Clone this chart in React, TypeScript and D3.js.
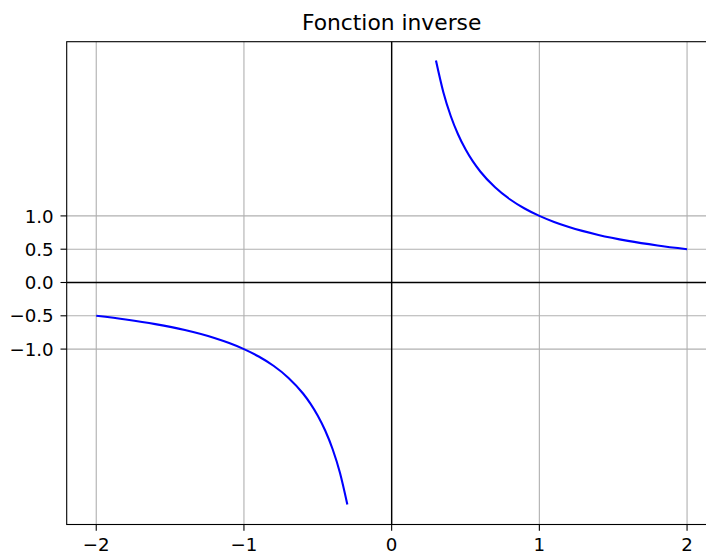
import React from "react";
import * as d3 from "d3";

const posX = [0.3, 0.35, 0.4, 0.45, 0.5, 0.55, 0.6, 0.7, 0.8, 0.9, 1.0, 1.1, 1.2, 1.4, 1.6, 1.8, 2.0];
const posY = [3.333, 2.857, 2.5, 2.222, 2.0, 1.818, 1.667, 1.429, 1.25, 1.111, 1.0, 0.909, 0.833, 0.714, 0.625, 0.556, 0.5];
const negX = [-2.0, -1.8, -1.6, -1.4, -1.2, -1.1, -1.0, -0.9, -0.8, -0.7, -0.6, -0.55, -0.5, -0.45, -0.4, -0.35, -0.3];
const negY = [-0.5, -0.556, -0.625, -0.714, -0.833, -0.909, -1.0, -1.111, -1.25, -1.429, -1.667, -1.818, -2.0, -2.222, -2.5, -2.857, -3.333];
const xTicks = [-2, -1, 0, 1, 2];
const yTicks = [-1.0, -0.5, 0.0, 0.5, 1.0];
const title = "Fonction inverse";

const W = 706, H = 553;
const L = 66.7, R = 716.6, T = 41.7, B = 524.5;
const FS = 18.2;

export default function App() {
  const x = d3.scaleLinear().domain([-2.2, 2.2]).range([L, R]);
  const y = d3.scaleLinear().domain([-3.634, 3.616]).range([B, T]);
  const line = d3.line<[number, number]>().x(d => x(d[0])).y(d => y(d[1])).curve(d3.curveMonotoneX);
  const pos = posX.map((v, i) => [v, posY[i]] as [number, number]);
  const neg = negX.map((v, i) => [v, negY[i]] as [number, number]);
  const fmtY = (v: number) => (v < 0 ? "\u2212" : "") + Math.abs(v).toFixed(1);
  const fmtX = (v: number) => (v < 0 ? "\u2212" : "") + Math.abs(v).toString();
  const font = "DejaVu Sans, sans-serif";
  return (
    <svg width={W} height={H} style={{ position: "absolute", left: 0, top: 0, background: "#fff" }} fontFamily={font}>
      <rect x={0} y={0} width={W} height={H} fill="#fff" />
      <text x={(L + R) / 2} y={30.4} textAnchor="middle" fontSize={21.8} fill="#000">{title}</text>
      {xTicks.map(t => (
        <line key={"gx" + t} x1={x(t)} x2={x(t)} y1={T} y2={B} stroke="#b0b0b0" strokeWidth={1.1} />
      ))}
      {yTicks.map(t => (
        <line key={"gy" + t} x1={L} x2={R} y1={y(t)} y2={y(t)} stroke="#b0b0b0" strokeWidth={1.1} />
      ))}
      <line x1={x(0)} x2={x(0)} y1={T} y2={B} stroke="#000" strokeWidth={1.4} />
      <line x1={L} x2={R} y1={y(0)} y2={y(0)} stroke="#000" strokeWidth={1.4} />
      <path d={line(pos) || ""} fill="none" stroke="#0000ff" strokeWidth={2.1} />
      <path d={line(neg) || ""} fill="none" stroke="#0000ff" strokeWidth={2.1} />
      <rect x={L} y={T} width={R - L} height={B - T} fill="none" stroke="#000" strokeWidth={1.1} />
      {xTicks.map(t => (
        <g key={"tx" + t}>
          <line x1={x(t)} x2={x(t)} y1={B} y2={B + 6.2} stroke="#000" strokeWidth={1.1} />
          <text x={x(t)} y={550.5} textAnchor="middle" fontSize={FS} fill="#000">{fmtX(t)}</text>
        </g>
      ))}
      {yTicks.map(t => (
        <g key={"ty" + t}>
          <line x1={L - 6.2} x2={L} y1={y(t)} y2={y(t)} stroke="#000" strokeWidth={1.1} />
          <text x={L - 13} y={y(t) + 6.6} textAnchor="end" fontSize={FS} fill="#000">{fmtY(t)}</text>
        </g>
      ))}
    </svg>
  );
}
